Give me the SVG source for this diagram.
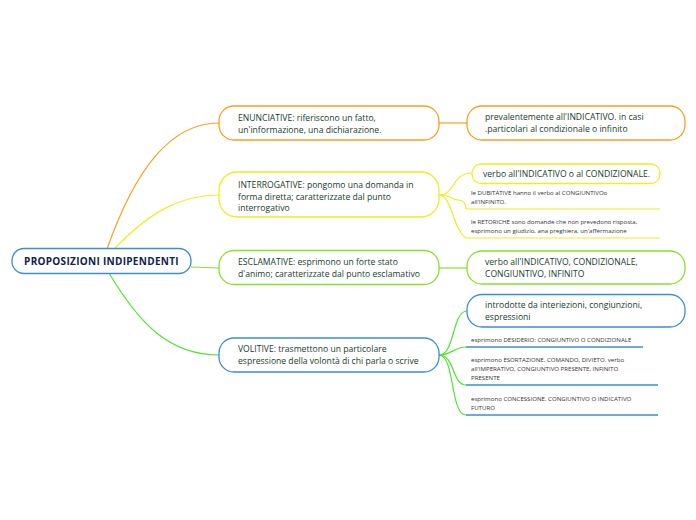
<svg xmlns="http://www.w3.org/2000/svg" width="696" height="520" viewBox="0 0 696 520">
<style>
.n{fill:#fff;stroke-width:1.3}
.t{font-family:"Open Sans","Noto Sans",sans-serif;font-size:8.6px;fill:#173d2c}
.s{font-family:"Open Sans","Noto Sans",sans-serif;font-size:6.1px;fill:#333}
.c{fill:none;stroke-width:1.2}
.o{stroke:#f7a020}.y{stroke:#eeee22}.g{stroke:#88e02c}.b{stroke:#3a8ed4}.gg{stroke:#4ee62c}
</style>
<rect width="696" height="520" fill="#fff"/>
<g id="connectors">
<path class="c o" d="M107,249 C135,170 170,123 219,123"/>
<path class="c y" d="M114,249 C150,212 180,195 219,195"/>
<path class="c g" d="M191,267 L219,268"/>
<path class="c gg" d="M109,273 C140,325 170,355 219,355"/>
<path class="c o" d="M439,123 L467,123"/>
<path class="c y" d="M439,195 C455,195 452,173 472,173"/>
<path class="c y" d="M439,195 C452,195 452,200 458,200 Q466,200 466,209"/>
<path class="c y" d="M439,195 C452,195 452,228 466,238"/>
<path class="c g" d="M439,268 L467,268"/>
<path class="c gg" d="M439,355 C455,355 452,311 467,311"/>
<path class="c gg" d="M439,355 C452,355 454,347 466,347"/>
<path class="c gg" d="M439,355 C455,355 452,385 466,385"/>
<path class="c gg" d="M439,355 C455,355 450,415 466,415"/>
</g>
<g id="root">
<rect class="n b" x="12" y="248.5" width="179" height="25" rx="12"/>
<text x="101.5" y="265" text-anchor="middle" style="font-family:'Open Sans','Noto Sans',sans-serif;font-size:10px;letter-spacing:0.3px;font-weight:bold;fill:#10224e">PROPOSIZIONI INDIPENDENTI</text>
</g>
<g id="enunciative">
<rect class="n o" x="219" y="106" width="220" height="34" rx="15"/>
<text class="t" x="238" y="121">ENUNCIATIVE: riferiscono un fatto,</text>
<text class="t" x="238" y="133">un'informazione, una dichiarazione.</text>
</g>
<g id="enunciative-verbo">
<rect class="n o" x="467" y="106" width="218" height="34" rx="15"/>
<text class="t" x="485" y="120">prevalentemente all'INDICATIVO. in  casi</text>
<text class="t" x="485" y="132">.particolari al condizionale o infinito</text>
</g>
<g id="interrogative">
<rect class="n y" x="219" y="172" width="220" height="45" rx="18"/>
<text class="t" x="238" y="188">INTERROGATIVE: pongomo una domanda in</text>
<text class="t" x="238" y="200">forma diretta; caratterizzate dal punto</text>
<text class="t" x="238" y="211">interrogativo</text>
</g>
<g id="interrogative-verbo">
<rect class="n y" x="472" y="164" width="188" height="19.5" rx="9"/>
<text class="t" x="483" y="177">verbo all'INDICATIVO o al CONDIZIONALE.</text>
</g>
<g id="dubitative">
<text class="s" x="471" y="195">le DUBITATIVE hanno il verbo al CONGIUNTIVOo</text>
<text class="s" x="471" y="204">all'INFINITO.</text>
<path class="c y" d="M466,209 L660,209"/>
</g>
<g id="retoriche">
<text class="s" x="471" y="224">le RETORICHE sono domande che non prevedono risposta,</text>
<text class="s" x="471" y="233">esprimono un giudizio, ana preghiera, un'affermazione</text>
<path class="c y" d="M466,238 L660,238"/>
</g>
<g id="esclamative">
<rect class="n g" x="219" y="250.5" width="220" height="34" rx="15"/>
<text class="t" x="238" y="265">ESCLAMATIVE: esprimono un forte stato</text>
<text class="t" x="238" y="277">d'animo; caratterizzate dal punto esclamativo</text>
</g>
<g id="esclamative-verbo">
<rect class="n g" x="467" y="251" width="218" height="33" rx="15"/>
<text class="t" x="485" y="265">verbo all'INDICATIVO, CONDIZIONALE,</text>
<text class="t" x="485" y="277">CONGIUNTIVO, INFINITO</text>
</g>
<g id="volitive">
<rect class="n b" x="219" y="338" width="220" height="34" rx="15"/>
<text class="t" x="238" y="352">VOLITIVE: trasmettono un particolare</text>
<text class="t" x="238" y="364">espressione della volontà di chi parla o scrive</text>
</g>
<g id="volitive-introdotte">
<rect class="n b" x="467" y="294.5" width="218" height="32.5" rx="15"/>
<text class="t" x="485" y="308">introdotte da interiezioni, congiunzioni,</text>
<text class="t" x="485" y="320">espressioni</text>
</g>
<g id="desiderio">
<text class="s" x="471" y="342">esprimono DESIDERIO: CONGIUNTIVO O CONDIZIONALE</text>
<path class="c b" d="M466,347 L643,347" style="stroke-width:1.5"/>
</g>
<g id="esortazione">
<text class="s" x="471" y="362">esprimono ESORTAZIONE, COMANDO, DIVIETO. verbo</text>
<text class="s" x="471" y="371">all'IMPERATIVO, CONGIUNTIVO PRESENTE, INFINITO</text>
<text class="s" x="471" y="380">PRESENTE</text>
<path class="c b" d="M466,385 L658,385" style="stroke-width:1.5"/>
</g>
<g id="concessione">
<text class="s" x="471" y="401">esprimono CONCESSIONE. CONGIUNTIVO O INDICATIVO</text>
<text class="s" x="471" y="410">FUTURO</text>
<path class="c b" d="M466,415 L658,415" style="stroke-width:1.5"/>
</g>
</svg>
